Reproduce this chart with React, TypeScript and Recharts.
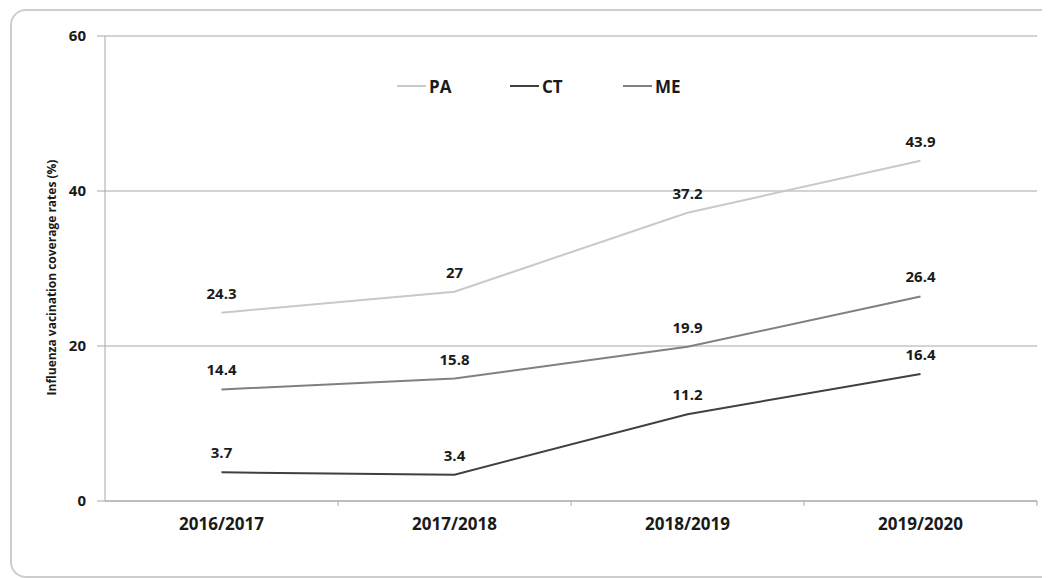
import React from "react";
import {
  CartesianGrid,
  LabelList,
  Legend,
  Line,
  LineChart,
  XAxis,
  YAxis,
} from "recharts";

const seasons = ["2016/2017", "2017/2018", "2018/2019", "2019/2020"];
const paRates = [24.3, 27, 37.2, 43.9];
const ctRates = [3.7, 3.4, 11.2, 16.4];
const meRates = [14.4, 15.8, 19.9, 26.4];
const yTicks = [0, 20, 40, 60];

const series = [
  { key: "PA", color: "#c9c9c9" },
  { key: "CT", color: "#404040" },
  { key: "ME", color: "#808080" },
];

const data = seasons.map((season, i) => ({
  season,
  PA: paRates[i],
  CT: ctRates[i],
  ME: meRates[i],
}));

const gridColor = "#a8a8a8";
const textColor = "#1a1a1a";

const CHART_W = 1030;
const CHART_H = 560;
const margin = { top: 25, right: 5, left: 0, bottom: 40 };
const yAxisW = 93;
const bandW = (CHART_W - margin.left - margin.right - yAxisW) / seasons.length;

function renderLegend() {
  return (
    <div style={{ display: "flex", fontSize: 17, fontWeight: 700, color: textColor }}>
      {series.map((s) => (
        <div
          key={s.key}
          style={{ width: 113, display: "flex", alignItems: "center", height: 20 }}
        >
          <span
            style={{
              display: "inline-block",
              width: 29,
              height: 2,
              background: s.color,
              marginRight: 3,
            }}
          />
          <span>{s.key}</span>
        </div>
      ))}
    </div>
  );
}

// category label plus Excel-style tick marks between the categories
function SeasonTick({ x, y, payload, index }: any) {
  const axisY = y - 17;
  const left = x - bandW / 2;
  const right = x + bandW / 2;
  return (
    <g>
      {index > 0 && (
        <line x1={left} x2={left} y1={axisY} y2={axisY + 5} stroke={gridColor} />
      )}
      {index === seasons.length - 1 && (
        <line x1={right} x2={right} y1={axisY} y2={axisY + 5} stroke={gridColor} />
      )}
      <text
        x={x}
        y={y}
        dy="0.71em"
        textAnchor="middle"
        fontSize={17}
        fontWeight={700}
        fill={textColor}
      >
        {payload.value}
      </text>
    </g>
  );
}

function YTitle({ viewBox }: any) {
  const x = viewBox.x + 39;
  const y = viewBox.y + viewBox.height / 2 + 9;
  return (
    <text
      x={x}
      y={y}
      transform={`rotate(-90 ${x} ${y})`}
      textAnchor="middle"
      dominantBaseline="central"
      fontSize={12}
      fontWeight={700}
      fill={textColor}
    >
      Influenza vacination coverage rates (%)
    </text>
  );
}

export default function App() {
  return (
    <div
      style={{
        position: "relative",
        boxSizing: "border-box",
        width: 1040,
        height: 569,
        margin: "1px 0 0 2px",
        borderTop: "2px solid #cdcdcd",
        borderLeft: "2px solid #cdcdcd",
        borderBottom: "2px solid #cdcdcd",
        borderTopLeftRadius: 16,
        borderBottomLeftRadius: 16,
        fontFamily: "'Open Sans', sans-serif",
        background: "#fff",
      }}
    >
      <div style={{ position: "absolute", left: 0, top: 0 }}>
        <LineChart width={CHART_W} height={CHART_H} data={data} margin={margin}>
          <CartesianGrid vertical={false} stroke={gridColor} />
          <XAxis
            dataKey="season"
            scale="band"
            stroke={gridColor}
            tickLine={false}
            tickMargin={11}
            tick={<SeasonTick />}
          />
          <YAxis
            width={yAxisW}
            domain={[0, 60]}
            ticks={yTicks}
            stroke={gridColor}
            tickSize={8}
            tickMargin={11}
            tick={{ fontSize: 15, fontWeight: 700, fill: textColor }}
            label={{ content: YTitle }}
          />
          <Legend
            verticalAlign="middle"
            align="center"
            content={renderLegend}
            wrapperStyle={{ top: 65, left: 385, width: 400 }}
          />
          {series.map((s) => (
            <Line
              key={s.key}
              type="linear"
              dataKey={s.key}
              stroke={s.color}
              strokeWidth={2}
              dot={false}
              isAnimationActive={false}
            >
              <LabelList
                dataKey={s.key}
                position="top"
                offset={14}
                fontSize={15}
                fontWeight={700}
                fill={textColor}
              />
            </Line>
          ))}
        </LineChart>
      </div>
    </div>
  );
}
